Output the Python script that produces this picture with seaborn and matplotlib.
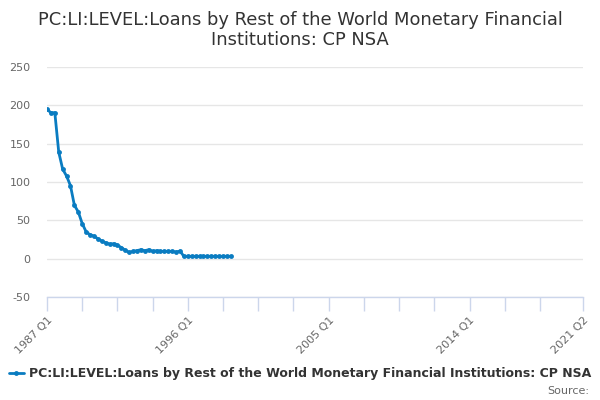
import matplotlib
matplotlib.use("Agg")
import matplotlib.pyplot as plt
import seaborn as sns
import pandas as pd

title = "PC:LI:LEVEL:Loans by Rest of the World Monetary Financial\nInstitutions: CP NSA"
series_name = "PC:LI:LEVEL:Loans by Rest of the World Monetary Financial Institutions: CP NSA"
start_quarter = "1987Q1"
values = [194.8, 190.4, 190.4, 139.0, 116.9, 107.8, 95.2, 69.6, 61.0, 45.8,
          35.1, 31.2, 29.4, 26.0, 22.9, 20.8, 19.0, 19.5, 17.7, 14.5,
          11.0, 8.2, 9.5, 10.5, 11.7, 10.4, 11.7, 9.5, 10.4, 9.5,
          9.5, 9.5, 9.5, 8.6, 9.9, 3.0, 3.0, 3.0, 3.0, 3.0,
          3.0, 3.0, 3.0, 3.0, 3.0, 3.0, 3.0, 3.0]
tick_positions = [1987.0, 1989.25, 1991.5, 1993.75, 1996.0, 1998.25, 2000.5, 2002.75,
                  2005.0, 2007.25, 2009.5, 2011.75, 2014.0, 2016.25, 2018.5, 2021.25]
tick_labels = ["1987 Q1", "", "", "", "1996 Q1", "", "", "", "2005 Q1", "", "", "",
               "2014 Q1", "", "", "2021 Q2"]
y_ticks = [-50, 0, 50, 100, 150, 200, 250]

periods = pd.period_range(start_quarter, periods=len(values), freq="Q")
df = pd.DataFrame({
    "t": [p.year + (p.quarter - 1) / 4 for p in periods],
    "v": values,
})

sns.set_theme(style="white")
plt.rcParams["font.family"] = ["DejaVu Sans"]

fig = plt.figure(figsize=(6, 4), dpi=100)
ax = fig.add_axes([47 / 600, 1 - 297 / 400, 536 / 600, 230 / 400])

color = "#0a7cc1"
sns.lineplot(data=df, x="t", y="v", ax=ax, color=color, linewidth=2,
             marker="o", markersize=3.5, markeredgewidth=0, label=series_name,
             legend=False)

ax.set_xlim(1987.0, 2021.25)
ax.set_ylim(-50, 250)
ax.set_yticks(y_ticks)
ax.set_yticklabels([str(v) for v in y_ticks], color="#666666", fontsize=8)
ax.set_xticks(tick_positions)
ax.set_xticklabels(tick_labels, rotation=45, ha="right", rotation_mode="anchor",
                   color="#666666", fontsize=8)
ax.tick_params(axis="x", length=10, width=1, color="#ccd6eb", pad=3, direction="out", bottom=True)
ax.tick_params(axis="y", length=0, pad=12)
for lab in ax.get_yticklabels():
    lab.set_horizontalalignment("right")

ax.grid(axis="y", color="#e6e6e6", linewidth=1)
ax.grid(axis="x", visible=False)
for s in ["top", "right", "left"]:
    ax.spines[s].set_visible(False)
ax.spines["bottom"].set_color("#ccd6eb")
ax.spines["bottom"].set_linewidth(1)
ax.set_xlabel("")
ax.set_ylabel("")

fig.text(0.5, 1 - 30 / 400, title, ha="center", va="center", fontsize=12.9,
         color="#333333", linespacing=1.1)

handles, labels = ax.get_legend_handles_labels()
fig.legend(handles, labels, loc="center", bbox_to_anchor=(0.5, 1 - 374 / 400),
           frameon=False, prop={"weight": "bold", "size": 9},
           handlelength=1.2, handletextpad=0.4, labelcolor="#333333")
fig.text(589 / 600, 1 - 391 / 400, "Source:", ha="right", va="center",
         fontsize=8, color="#666666")

fig.savefig("out.png", dpi=100)
